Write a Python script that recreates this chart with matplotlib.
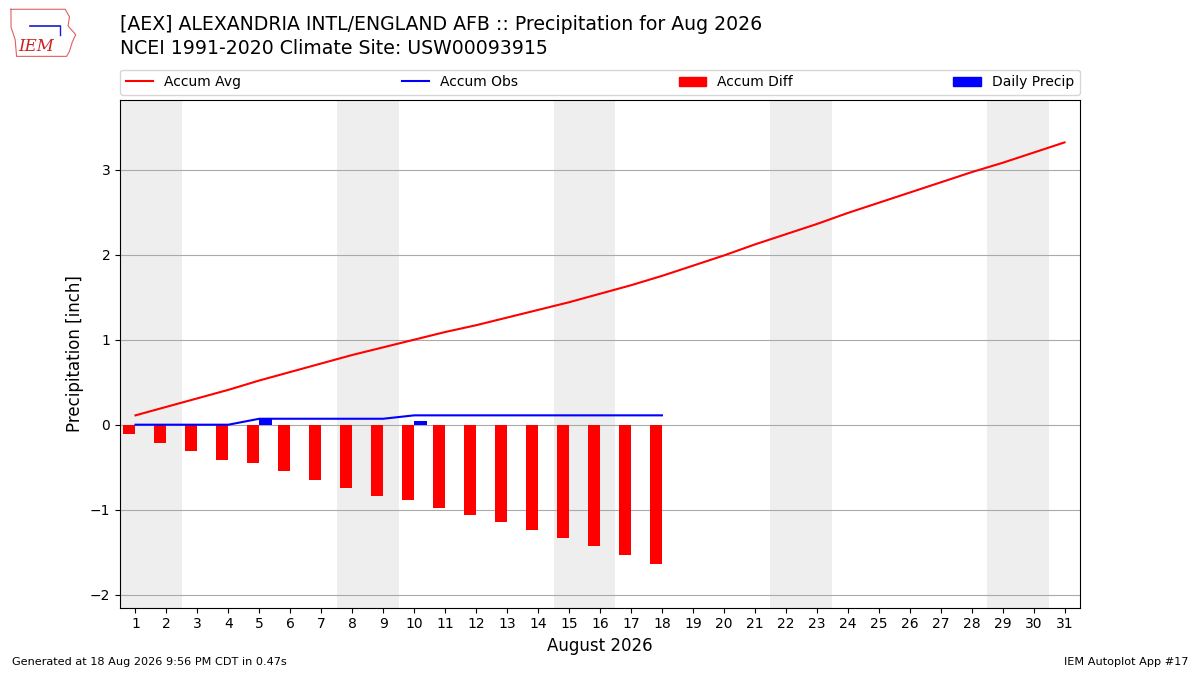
"""Recreate the IEM Autoplot #17 monthly precipitation chart for AEX, Aug 2026."""

import numpy as np
import matplotlib

matplotlib.use("Agg")
import matplotlib.pyplot as plt
from matplotlib.patches import Patch
from matplotlib.lines import Line2D

TITLE = "[AEX] ALEXANDRIA INTL/ENGLAND AFB :: Precipitation for Aug 2026"
SUBTITLE = "NCEI 1991-2020 Climate Site: USW00093915"

DAYS = list(range(1, 32))
# climatological accumulated average precipitation [inch]
ACCUM_AVG = [
    0.11, 0.21, 0.31, 0.41, 0.52, 0.62, 0.72, 0.82, 0.91, 1.00,
    1.09, 1.17, 1.26, 1.35, 1.44, 1.54, 1.64, 1.75, 1.87, 1.99,
    2.12, 2.24, 2.36, 2.49, 2.61, 2.73, 2.85, 2.97, 3.08, 3.20, 3.32,
]
# observed daily precipitation through the 18th [inch]
OBS_DAYS = list(range(1, 19))
DAILY_PRECIP = [
    0.00, 0.00, 0.00, 0.00, 0.07, 0.00, 0.00, 0.00, 0.00, 0.04,
    0.00, 0.00, 0.00, 0.00, 0.00, 0.00, 0.00, 0.00,
]
# weekend days (Aug 1 2026 is a Saturday)
WEEKENDS = [1, 2, 8, 9, 15, 16, 22, 23, 29, 30]

# rough outline of Iowa for the logo stand-in (logo-axes units)
LOGO_X = [0.02, 0.80, 0.86, 0.84, 0.95, 0.90, 0.86, 0.82, 0.10, 0.08, 0.02, 0.02]
LOGO_Y = [0.95, 0.95, 0.80, 0.62, 0.45, 0.30, 0.12, 0.02, 0.02, 0.35, 0.60, 0.95]


def draw_logo(fig) -> None:
    lax = fig.add_axes([0.008, 0.915, 0.058, 0.075])
    lax.plot(LOGO_X, LOGO_Y, color="#e06060", lw=0.8)
    lax.plot([0.30, 0.72], [0.62, 0.62], color="#1a1acc", lw=1.2)
    lax.plot([0.72, 0.72], [0.62, 0.45], color="#1a1acc", lw=1.0)
    lax.text(0.38, 0.22, "IEM", color="#cc2222", fontsize=12, style="italic",
             family="serif", ha="center", va="center")
    lax.set_xlim(0, 1)
    lax.set_ylim(0, 1)
    lax.axis("off")


def main() -> None:
    accum_obs = np.cumsum(DAILY_PRECIP)
    accum_diff = accum_obs - np.array(ACCUM_AVG[: len(OBS_DAYS)])

    fig = plt.figure(figsize=(12, 6.75), dpi=100)
    ax = fig.add_axes([0.1, 0.1, 0.8, 0.752])

    for day in WEEKENDS:
        ax.axvspan(day - 0.5, day + 0.5, color="#eeeeee", lw=0, zorder=0)

    ax.bar(OBS_DAYS, accum_diff, width=-0.4, align="edge", color="r", zorder=2)
    ax.bar(OBS_DAYS, DAILY_PRECIP, width=0.4, align="edge", color="b", zorder=2)
    ax.plot(DAYS, ACCUM_AVG, color="r", lw=1.5, zorder=3)
    ax.plot(OBS_DAYS, accum_obs, color="b", lw=1.5, zorder=3)

    ax.set_xlim(0.5, 31.5)
    ax.set_ylim(-2.15, 3.82)
    ax.set_xticks(DAYS)
    ax.set_yticks([-2, -1, 0, 1, 2, 3])
    ax.tick_params(labelsize=10)
    ax.grid(axis="y", color="#aaaaaa", lw=0.8, zorder=1)
    ax.set_axisbelow(True)
    ax.set_xlabel("August 2026", fontsize=12)
    ax.set_ylabel("Precipitation [inch]", fontsize=12)

    handles = [
        Line2D([], [], color="r", lw=1.5),
        Line2D([], [], color="b", lw=1.5),
        Patch(color="r"),
        Patch(color="b"),
    ]
    labels = ["Accum Avg", "Accum Obs", "Accum Diff", "Daily Precip"]
    ax.legend(
        handles, labels, loc="lower left", bbox_to_anchor=(0, 1.01, 1, 0.05),
        mode="expand", ncol=4, borderaxespad=0, fontsize=10,
    )

    fig.text(0.1, 0.963, TITLE, fontsize=13.6, va="center")
    fig.text(0.1, 0.928, SUBTITLE, fontsize=13.6, va="center")

    draw_logo(fig)

    fig.text(0.01, 0.015, "Generated at 18 Aug 2026 9:56 PM CDT in 0.47s", fontsize=8.1)
    fig.text(0.99, 0.015, "IEM Autoplot App #17", fontsize=8.1, ha="right")

    fig.savefig("out.png", dpi=100)
    plt.close(fig)


if __name__ == "__main__":
    main()
